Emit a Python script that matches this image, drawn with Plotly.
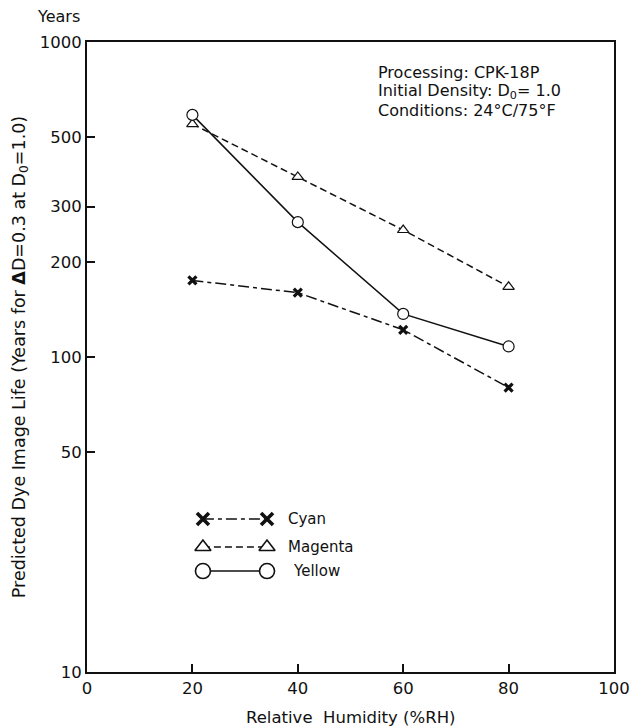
import plotly.graph_objects as go

humidity = [20, 40, 60, 80]
cyan = [175, 160, 122, 80]
magenta = [549, 373, 253, 167]
yellow = [587, 268, 137, 108]

x_ticks = [0, 20, 40, 60, 80, 100]
y_ticks = [10, 50, 100, 200, 300, 500, 1000]

FONT = "DejaVu Sans, Verdana, sans-serif"
BLACK = "#111111"

fig = go.Figure()

series = [
    ("Cyan", cyan, "11px,4px,4px,4px", "x-thin-open", 8, 3.2, BLACK),
    ("Magenta", magenta, "7px,4px", "triangle-up", 10, 1.2, "white"),
    ("Yellow", yellow, "solid", "circle", 11, 1.2, "white"),
]

for name, vals, dash, sym, size, mlw, fill in series:
    fig.add_trace(go.Scatter(
        x=humidity, y=vals, mode="lines+markers", name=name,
        line=dict(color=BLACK, width=1.5, dash=dash),
        marker=dict(symbol=sym, size=size, color=fill,
                    line=dict(color=BLACK, width=mlw)),
        showlegend=False,
    ))

# custom legend on an overlay axis (0..1 paper-like)
leg_x0, leg_x1, leg_text = 0.220, 0.3416, 0.378
leg_rows = [0.2429, 0.1984, 0.1603]
for (name, vals, dash, sym, size, mlw, fill), yy in zip(series, leg_rows):
    fig.add_trace(go.Scatter(
        x=[leg_x0, leg_x1], y=[yy, yy], mode="lines+markers",
        xaxis="x2", yaxis="y2", showlegend=False, hoverinfo="skip",
        line=dict(color=BLACK, width=1.5, dash=dash),
        marker=dict(symbol=sym, size=size + 4, color=fill,
                    line=dict(color=BLACK, width=mlw + 0.4)),
    ))
    fig.add_annotation(x=leg_text + (0.01 if name == "Yellow" else 0), y=yy, xref="x2", yref="y2",
                       text=name, showarrow=False, xanchor="left",
                       font=dict(family=FONT, size=15, color=BLACK))

info_lines = ["Processing: CPK-18P",
              "Initial Density: D<sub>0</sub>= 1.0",
              "Conditions: 24°C/75°F"]
info_y = [0.952, 0.922, 0.892]
for txt, yy in zip(info_lines, info_y):
    fig.add_annotation(
        x=0.548, y=yy, xref="paper", yref="paper", xanchor="left", yanchor="middle",
        align="left", showarrow=False, text=txt,
        font=dict(family=FONT, size=16, color=BLACK),
    )

fig.add_annotation(
    x=-0.01, y=1.022, xref="paper", yref="paper", xanchor="right", yanchor="bottom",
    showarrow=False, text="Years", font=dict(family=FONT, size=16, color=BLACK),
)

fig.add_annotation(
    x=0.5, y=-0.073, xref="paper", yref="paper", xanchor="center", yanchor="middle",
    showarrow=False, text="Relative  Humidity (%RH)", font=dict(family=FONT, size=16.5, color=BLACK),
)

fig.update_layout(
    width=634, height=728,
    margin=dict(l=87, r=20, t=42, b=56),
    paper_bgcolor="white", plot_bgcolor="white",
    font=dict(family=FONT, size=16, color=BLACK),
    xaxis=dict(
        range=[0, 100], tickvals=x_ticks, ticks="inside", ticklen=8, tickwidth=1.5,
        tickcolor=BLACK, showline=True, linewidth=2, linecolor=BLACK, mirror=True,
        showgrid=False, zeroline=False, tickfont=dict(size=16.5), automargin=False,
    ),
    yaxis=dict(
        type="log", range=[1, 3], tickvals=y_ticks, ticktext=[str(v) for v in y_ticks],
        ticks="inside", ticklen=8, tickwidth=1.5, tickcolor=BLACK,
        showline=True, linewidth=2, linecolor=BLACK, mirror=True,
        showgrid=False, zeroline=False, tickfont=dict(size=16.5),
        title=dict(text="Predicted Dye Image Life (Years for <b>Δ</b>D=0.3 at D<sub>0</sub>=1.0)",
                   standoff=10, font=dict(size=17.5)),
    ),
    xaxis2=dict(range=[0, 1], overlaying="x", visible=False, fixedrange=True),
    yaxis2=dict(range=[0, 1], overlaying="y", visible=False, fixedrange=True),
)

fig.write_html("out.html")
